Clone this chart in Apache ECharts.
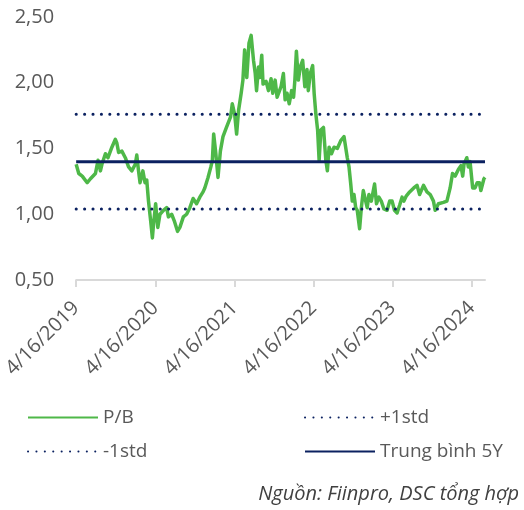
<!DOCTYPE html>
<html>
<head>
<meta charset="utf-8">
<script src="https://cdn.jsdelivr.net/npm/echarts@6/dist/echarts.min.js"></script>
<style>
  html, body { margin: 0; padding: 0; background: #fff; }
  #chart { width: 524px; height: 510px; }
</style>
</head>
<body>
<div id="chart"></div>
<script>
// P/B theo ngay (doc tu hinh)
var pbDates = [
  '2019-04-16','2019-04-28','2019-05-14','2019-06-06','2019-06-21','2019-07-14','2019-07-26','2019-08-06','2019-08-13','2019-08-29',
  '2019-09-10','2019-09-28','2019-10-14','2019-10-21','2019-10-29','2019-11-13','2019-11-29','2019-12-14','2019-12-29','2020-01-14',
  '2020-01-21','2020-01-29','2020-02-05','2020-02-18','2020-02-28','2020-03-07','2020-03-15','2020-03-25','2020-04-02','2020-04-07',
  '2020-04-17','2020-04-27','2020-05-07','2020-05-23','2020-06-07','2020-06-15','2020-06-30','2020-07-12','2020-07-27','2020-08-07',
  '2020-08-23','2020-09-07','2020-09-22','2020-10-07','2020-10-23','2020-11-07','2020-11-22','2020-11-30','2020-12-15','2020-12-28',
  '2021-01-04','2021-01-10','2021-01-20','2021-01-30','2021-02-10','2021-02-22','2021-03-10','2021-03-29','2021-04-06','2021-04-17',
  '2021-04-26','2021-05-05','2021-05-17','2021-05-25','2021-06-02','2021-06-12','2021-06-22','2021-07-02','2021-07-13','2021-07-21',
  '2021-07-27','2021-08-05','2021-08-11','2021-08-20','2021-08-26','2021-09-09','2021-09-20','2021-10-02','2021-10-10','2021-10-21',
  '2021-10-30','2021-11-17','2021-11-28','2021-12-06','2021-12-15','2021-12-25','2022-01-05','2022-01-14','2022-01-20','2022-01-27',
  '2022-02-05','2022-02-14','2022-02-25','2022-03-07','2022-03-17','2022-03-23','2022-04-01','2022-04-12','2022-04-19','2022-04-27',
  '2022-05-05','2022-05-12','2022-05-20','2022-06-01','2022-06-12','2022-06-19','2022-06-27','2022-07-08','2022-07-20','2022-08-04',
  '2022-08-20','2022-09-04','2022-09-19','2022-09-27','2022-10-05','2022-10-12','2022-10-20','2022-10-28','2022-11-04','2022-11-15',
  '2022-11-23','2022-12-02','2022-12-13','2022-12-20','2022-12-28','2023-01-08','2023-01-23','2023-02-01','2023-02-12','2023-02-23',
  '2023-03-07','2023-03-22','2023-04-03','2023-04-14','2023-04-25','2023-05-07','2023-05-19','2023-05-30','2023-06-07','2023-06-19',
  '2023-07-04','2023-07-23','2023-08-07','2023-08-19','2023-09-06','2023-09-22','2023-10-07','2023-10-22','2023-10-30','2023-11-14',
  '2023-12-07','2023-12-23','2024-01-07','2024-01-18','2024-01-30','2024-02-14','2024-02-26','2024-03-05','2024-03-11','2024-03-24',
  '2024-03-31','2024-04-08','2024-04-20','2024-05-01','2024-05-11','2024-05-21','2024-05-28','2024-06-11','2024-06-16'
];
var pbValues = [
  1.38,1.31,1.29,1.24,1.27,1.31,1.41,1.33,1.38,1.46,
  1.43,1.51,1.57,1.54,1.47,1.48,1.43,1.36,1.33,1.38,
  1.45,1.33,1.24,1.33,1.24,1.26,1.10,0.95,0.82,0.92,
  1.08,0.90,1.00,1.03,1.05,0.98,1.00,0.95,0.87,0.90,
  0.98,1.00,1.05,1.12,1.08,1.13,1.17,1.20,1.28,1.36,
  1.41,1.61,1.46,1.28,1.48,1.59,1.66,1.74,1.84,1.76,
  1.61,1.79,1.92,2.02,2.25,2.04,2.30,2.36,2.17,2.07,
  1.94,2.12,2.04,2.21,1.99,2.01,1.94,2.03,1.92,2.02,
  1.89,1.97,2.07,1.87,1.92,1.84,1.94,1.89,2.02,2.24,
  2.02,2.12,2.17,1.97,2.10,1.94,2.07,2.13,1.92,1.76,
  1.64,1.41,1.64,1.66,1.41,1.33,1.51,1.46,1.51,1.50,
  1.56,1.59,1.43,1.36,1.23,1.10,1.15,1.05,1.03,0.89,
  1.05,1.18,1.10,1.05,1.15,1.10,1.23,1.08,1.13,1.10,
  1.04,1.03,1.10,1.10,1.03,1.01,1.07,1.13,1.10,1.14,
  1.17,1.20,1.22,1.15,1.22,1.17,1.15,1.10,1.03,1.08,
  1.09,1.10,1.20,1.31,1.29,1.34,1.37,1.29,1.38,1.43,
  1.36,1.40,1.20,1.20,1.24,1.24,1.18,1.27,1.28
];

var meanVal = 1.40;
var plusStd = 1.76;
var minusStd = 1.04;

var tickDates = ['2019-04-16','2020-04-16','2021-04-16','2022-04-16','2023-04-16','2024-04-16'];

function ts(s) {
  var p = s.split('-');
  return new Date(+p[0], +p[1] - 1, +p[2]).getTime();
}

var startTs = ts(pbDates[0]);
var endTs = ts(pbDates[pbDates.length - 1]);
var tickTs = tickDates.map(ts);

var GREEN = '#4eb848';
var NAVY = '#0b2160';
var GREY = '#595959';
var FONT = 'Open Sans';

function flat(v) {
  return [[startTs, v], [endTs, v]];
}

var chart = echarts.init(document.getElementById('chart'));

var legendBase = {
  orient: 'vertical',
  top: 408,
  padding: 0,
  itemWidth: 70,
  itemHeight: 14,
  itemGap: 15,
  itemStyle: { opacity: 0 },
  textStyle: { fontFamily: FONT, fontSize: 19, color: GREY }
};

var option = {
  animation: false,
  textStyle: { fontFamily: FONT },
  grid: { left: 74, right: 39, top: 17, bottom: 230, containLabel: false },
  title: {
    text: 'Nguồn: Fiinpro, DSC tổng hợp',
    right: 5,
    top: 484,
    padding: 0,
    textStyle: { fontFamily: FONT, fontSize: 20, fontStyle: 'italic', fontWeight: 'normal', color: '#404040' }
  },
  legend: [
    Object.assign({}, legendBase, { data: ['P/B', '-1std'], left: 27 }),
    Object.assign({}, legendBase, { data: ['+1std', 'Trung bình 5Y'], left: 304 })
  ],
  xAxis: {
    type: 'value',
    min: startTs,
    max: endTs,
    splitLine: { show: false },
    axisLine: { show: true, lineStyle: { color: '#d9d9d9', width: 2 } },
    axisTick: { show: true, length: 7, lineStyle: { color: '#d9d9d9', width: 2 }, customValues: tickTs },
    axisLabel: {
      customValues: tickTs,
      rotate: 45,
      margin: 25,
      fontSize: 20,
      color: GREY,
      fontFamily: FONT,
      formatter: function (val) {
        var d = new Date(val);
        return (d.getMonth() + 1) + '/' + d.getDate() + '/' + d.getFullYear();
      }
    }
  },
  yAxis: {
    type: 'value',
    min: 0.5,
    max: 2.5,
    interval: 0.5,
    splitLine: { show: false },
    axisLine: { show: false },
    axisTick: { show: false },
    axisLabel: {
      margin: 22,
      fontSize: 20,
      color: GREY,
      fontFamily: FONT,
      formatter: function (v) { return v.toFixed(2).replace('.', ','); }
    }
  },
  series: [
    {
      name: 'P/B',
      type: 'line',
      symbol: 'none',
      data: pbDates.map(function (d, i) { return [ts(d), pbValues[i]]; }),
      lineStyle: { color: GREEN, width: 3.5, join: 'round' },
      itemStyle: { color: GREEN }
    },
    {
      name: '+1std',
      type: 'line',
      symbol: 'none',
      data: flat(plusStd),
      lineStyle: { color: NAVY, width: 3, type: [0.1, 8.3], cap: 'round' },
      itemStyle: { color: NAVY }
    },
    {
      name: '-1std',
      type: 'line',
      symbol: 'none',
      data: flat(minusStd),
      lineStyle: { color: NAVY, width: 3, type: [0.1, 8.3], cap: 'round' },
      itemStyle: { color: NAVY }
    },
    {
      name: 'Trung bình 5Y',
      type: 'line',
      symbol: 'none',
      data: flat(meanVal),
      lineStyle: { color: NAVY, width: 3 },
      itemStyle: { color: NAVY }
    }
  ]
};

chart.setOption(option);
window.addEventListener('resize', chart.resize);
</script>
</body>
</html>
